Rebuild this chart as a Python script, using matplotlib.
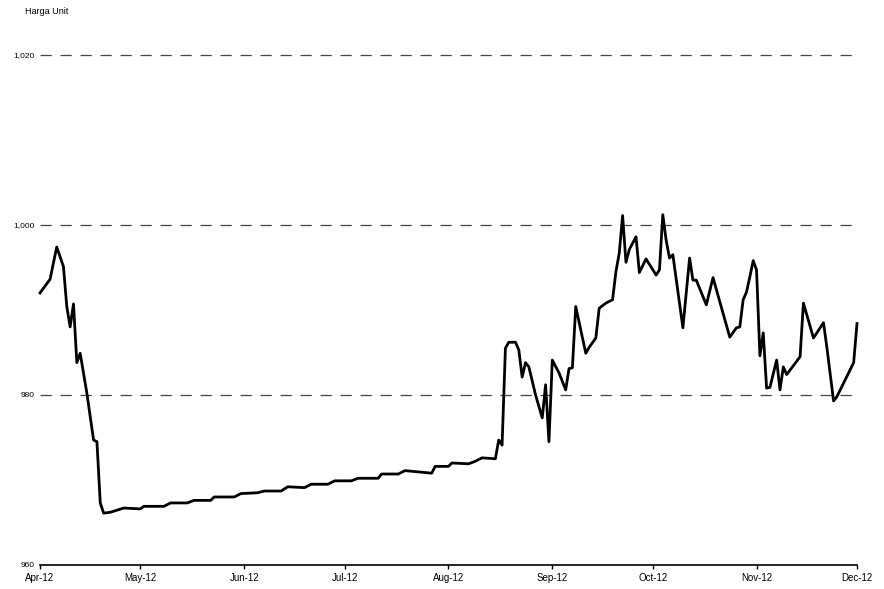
import matplotlib
matplotlib.use('Agg')
import matplotlib.pyplot as plt
import matplotlib.dates as mdates
import pandas as pd

dates = [
    '2012-04-01', '2012-04-04', '2012-04-06', '2012-04-08', '2012-04-09', '2012-04-10',
    '2012-04-11', '2012-04-12', '2012-04-13', '2012-04-15', '2012-04-17', '2012-04-18',
    '2012-04-19', '2012-04-20', '2012-04-22', '2012-04-26', '2012-05-01', '2012-05-02',
    '2012-05-08', '2012-05-10', '2012-05-15', '2012-05-17', '2012-05-22', '2012-05-23',
    '2012-05-29', '2012-05-31', '2012-06-05', '2012-06-07', '2012-06-12', '2012-06-14',
    '2012-06-19', '2012-06-21', '2012-06-26', '2012-06-28', '2012-07-03', '2012-07-05',
    '2012-07-11', '2012-07-12', '2012-07-17', '2012-07-19', '2012-07-27', '2012-07-28',
    '2012-08-01', '2012-08-02', '2012-08-07', '2012-08-09', '2012-08-11', '2012-08-15',
    '2012-08-16', '2012-08-17', '2012-08-18', '2012-08-19', '2012-08-21', '2012-08-22',
    '2012-08-23', '2012-08-24', '2012-08-25', '2012-08-27', '2012-08-29', '2012-08-30',
    '2012-08-31', '2012-09-01', '2012-09-03', '2012-09-05', '2012-09-06', '2012-09-07',
    '2012-09-08', '2012-09-11', '2012-09-12', '2012-09-14', '2012-09-15', '2012-09-17',
    '2012-09-19', '2012-09-20', '2012-09-21', '2012-09-22', '2012-09-23', '2012-09-24',
    '2012-09-26', '2012-09-27', '2012-09-29', '2012-10-02', '2012-10-03', '2012-10-04',
    '2012-10-05', '2012-10-06', '2012-10-07', '2012-10-10', '2012-10-12', '2012-10-13',
    '2012-10-14', '2012-10-17', '2012-10-19', '2012-10-24', '2012-10-26', '2012-10-27',
    '2012-10-28', '2012-10-29', '2012-10-30', '2012-10-31', '2012-11-01', '2012-11-02',
    '2012-11-03', '2012-11-04', '2012-11-05', '2012-11-07', '2012-11-08', '2012-11-09',
    '2012-11-10', '2012-11-14', '2012-11-15', '2012-11-18', '2012-11-21', '2012-11-22',
    '2012-11-24', '2012-11-25', '2012-11-30', '2012-12-01',
]
harga = [
    992.0, 993.6, 997.4, 995.1, 990.4, 988.0,
    990.7, 983.8, 984.9, 980.2, 974.7, 974.5,
    967.3, 966.1, 966.2, 966.7, 966.6, 966.9,
    966.9, 967.3, 967.3, 967.6, 967.6, 968.0,
    968.0, 968.4, 968.5, 968.7, 968.7, 969.2,
    969.1, 969.5, 969.5, 969.9, 969.9, 970.2,
    970.2, 970.7, 970.7, 971.1, 970.8, 971.6,
    971.6, 972.0, 971.9, 972.2, 972.6, 972.5,
    974.7, 974.1, 985.5, 986.2, 986.2, 985.3,
    982.1, 983.8, 983.3, 980.0, 977.3, 981.2,
    974.5, 984.1, 982.6, 980.6, 983.1, 983.2,
    990.4, 984.9, 985.6, 986.7, 990.2, 990.8,
    991.2, 994.5, 996.7, 1001.1, 995.6, 997.1,
    998.6, 994.4, 996.0, 994.1, 994.7, 1001.2,
    998.2, 996.1, 996.5, 987.9, 996.1, 993.5,
    993.5, 990.6, 993.8, 986.8, 987.9, 988.0,
    991.2, 992.1, 993.9, 995.8, 994.7, 984.6,
    987.3, 980.8, 980.9, 984.1, 980.6, 983.3,
    982.4, 984.5, 990.8, 986.7, 988.5, 985.6,
    979.3, 979.8, 983.8, 988.4,
]
y_ticks = [960, 980, 1000, 1020]
x_ticks = ['2012-04-01', '2012-05-01', '2012-06-01', '2012-07-01', '2012-08-01',
           '2012-09-01', '2012-10-01', '2012-11-01', '2012-12-01']

plt.rcParams['font.family'] = ['Liberation Sans Narrow', 'Liberation Sans', 'DejaVu Sans']

x = pd.to_datetime(dates)

fig = plt.figure(figsize=(8.84, 5.89), dpi=100)
ax = fig.add_axes([40 / 884, 1 - 565 / 589, 817 / 884, 545 / 589])

# dashed reference lines (960 is the bottom axis itself)
for v in y_ticks[1:]:
    ax.axhline(v, color='#444444', lw=0.9, dashes=(9, 7), zorder=1)

ax.plot(x, harga, color='black', lw=2, solid_joinstyle='round', zorder=3, clip_on=False)

ax.set_xlim(pd.Timestamp('2012-04-01'), pd.Timestamp('2012-12-01'))
ax.set_ylim(960, 1024.1)
ax.set_yticks(y_ticks)
ax.set_yticklabels(['{:,}'.format(v) for v in y_ticks])
ax.set_xticks(pd.to_datetime(x_ticks))
ax.xaxis.set_major_formatter(mdates.DateFormatter('%b-%y'))

for s in ['top', 'right', 'left']:
    ax.spines[s].set_visible(False)
ax.spines['bottom'].set_linewidth(1.2)
ax.tick_params(axis='x', length=3, width=1, labelsize=7, pad=3)
ax.tick_params(axis='y', length=0, labelsize=6, pad=4)

fig.text(25 / 884, 1 - 12 / 589, 'Harga Unit', fontsize=6.5, ha='left', va='center')

fig.savefig('out.png', dpi=100)
